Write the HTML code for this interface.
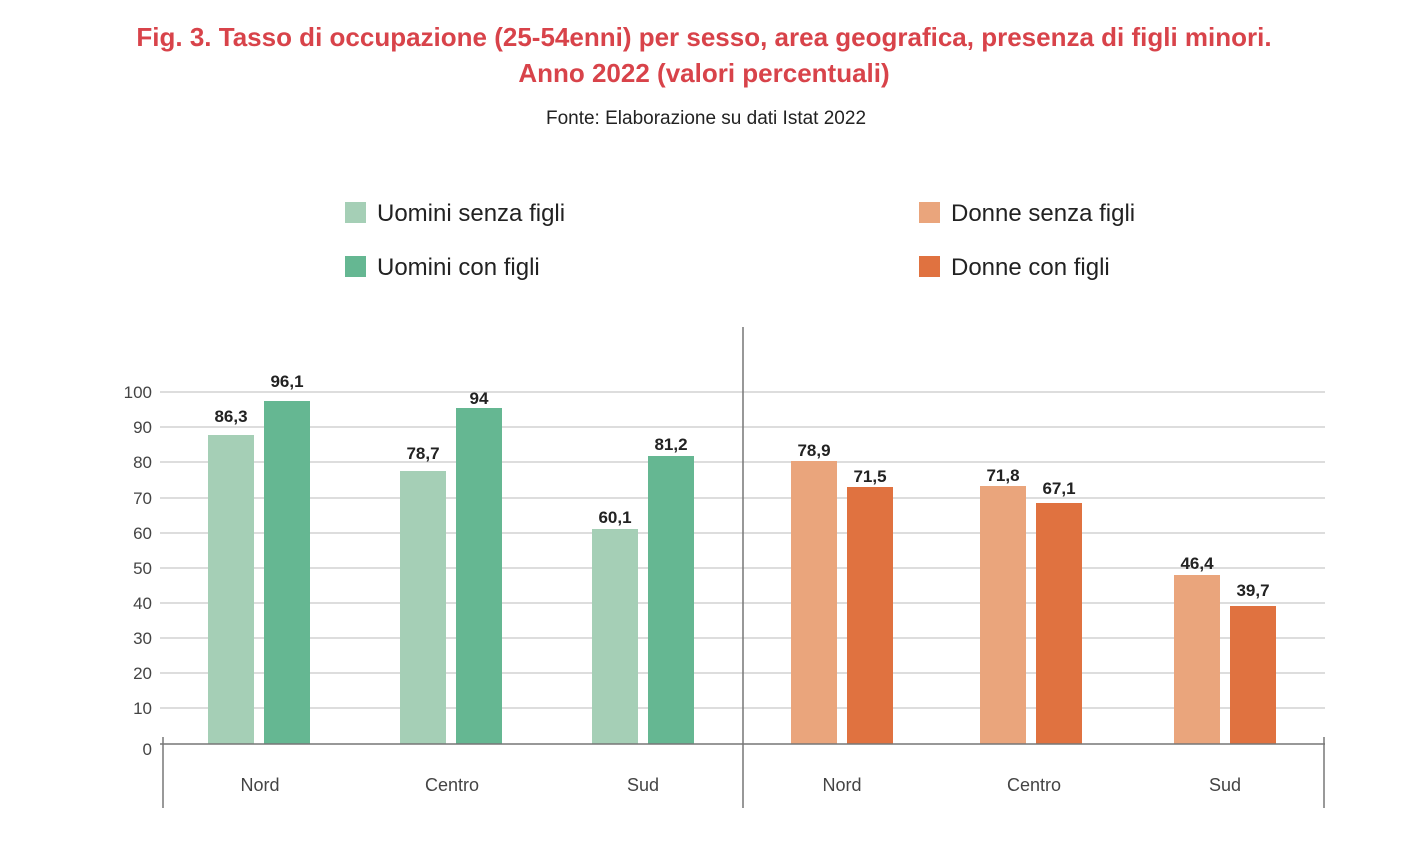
<!DOCTYPE html>
<html><head><meta charset="utf-8"><style>
body{margin:0;background:#fff;width:1415px;height:859px;overflow:hidden;font-family:"Liberation Sans",sans-serif}
</style></head><body>
<svg width="1415" height="859" xmlns="http://www.w3.org/2000/svg" font-family="Liberation Sans, sans-serif">
<text x="704" y="46" text-anchor="middle" font-size="26" font-weight="bold" fill="#d8434a">Fig. 3. Tasso di occupazione (25-54enni) per sesso, area geografica, presenza di figli minori.</text>
<text x="704" y="82" text-anchor="middle" font-size="26" font-weight="bold" fill="#d8434a">Anno 2022 (valori percentuali)</text>
<text x="706" y="124" text-anchor="middle" font-size="19" fill="#222">Fonte: Elaborazione su dati Istat 2022</text>
<rect x="345" y="202" width="21" height="21" fill="#a5cfb6"/><text x="377" y="221" font-size="24" fill="#222">Uomini senza figli</text>
<rect x="345" y="256" width="21" height="21" fill="#65b792"/><text x="377" y="275" font-size="24" fill="#222">Uomini con figli</text>
<rect x="919" y="202" width="21" height="21" fill="#eaa57c"/><text x="951" y="221" font-size="24" fill="#222">Donne senza figli</text>
<rect x="919" y="256" width="21" height="21" fill="#e07240"/><text x="951" y="275" font-size="24" fill="#222">Donne con figli</text>
<g stroke="#bbb" stroke-width="1">
<line x1="160" y1="392" x2="1325" y2="392"/><line x1="160" y1="427" x2="1325" y2="427"/><line x1="160" y1="462" x2="1325" y2="462"/><line x1="160" y1="498" x2="1325" y2="498"/><line x1="160" y1="533" x2="1325" y2="533"/><line x1="160" y1="568" x2="1325" y2="568"/><line x1="160" y1="603" x2="1325" y2="603"/><line x1="160" y1="638" x2="1325" y2="638"/><line x1="160" y1="673" x2="1325" y2="673"/><line x1="160" y1="708" x2="1325" y2="708"/>
</g>
<g font-size="17" fill="#444" text-anchor="end">
<text x="152" y="398">100</text><text x="152" y="433">90</text><text x="152" y="468">80</text><text x="152" y="504">70</text><text x="152" y="539">60</text><text x="152" y="574">50</text><text x="152" y="609">40</text><text x="152" y="644">30</text><text x="152" y="679">20</text><text x="152" y="714">10</text><text x="152" y="755">0</text>
</g>
<g>
<rect x="208" y="435" width="46" height="309" fill="#a5cfb6"/><rect x="264" y="401" width="46" height="343" fill="#65b792"/>
<rect x="400" y="471" width="46" height="273" fill="#a5cfb6"/><rect x="456" y="408" width="46" height="336" fill="#65b792"/>
<rect x="592" y="529" width="46" height="215" fill="#a5cfb6"/><rect x="648" y="456" width="46" height="288" fill="#65b792"/>
<rect x="791" y="461" width="46" height="283" fill="#eaa57c"/><rect x="847" y="487" width="46" height="257" fill="#e07240"/>
<rect x="980" y="486" width="46" height="258" fill="#eaa57c"/><rect x="1036" y="503" width="46" height="241" fill="#e07240"/>
<rect x="1174" y="575" width="46" height="169" fill="#eaa57c"/><rect x="1230" y="606" width="46" height="138" fill="#e07240"/>
</g>
<g font-size="17" font-weight="bold" fill="#222" text-anchor="middle">
<text x="231" y="422">86,3</text><text x="287" y="387">96,1</text>
<text x="423" y="459">78,7</text><text x="479" y="404">94</text>
<text x="615" y="523">60,1</text><text x="671" y="450">81,2</text>
<text x="814" y="456">78,9</text><text x="870" y="482">71,5</text>
<text x="1003" y="481">71,8</text><text x="1059" y="494">67,1</text>
<text x="1197" y="569">46,4</text><text x="1253" y="596">39,7</text>
</g>
<g stroke="#777" stroke-width="1.5">
<line x1="160" y1="744" x2="1325" y2="744"/>
<line x1="163" y1="737" x2="163" y2="808"/>
<line x1="1324" y1="737" x2="1324" y2="808"/>
<line x1="743" y1="327" x2="743" y2="808"/>
</g>
<g font-size="18" fill="#444" text-anchor="middle">
<text x="260" y="791">Nord</text><text x="452" y="791">Centro</text><text x="643" y="791">Sud</text>
<text x="842" y="791">Nord</text><text x="1034" y="791">Centro</text><text x="1225" y="791">Sud</text>
</g>
</svg>
</body></html>
